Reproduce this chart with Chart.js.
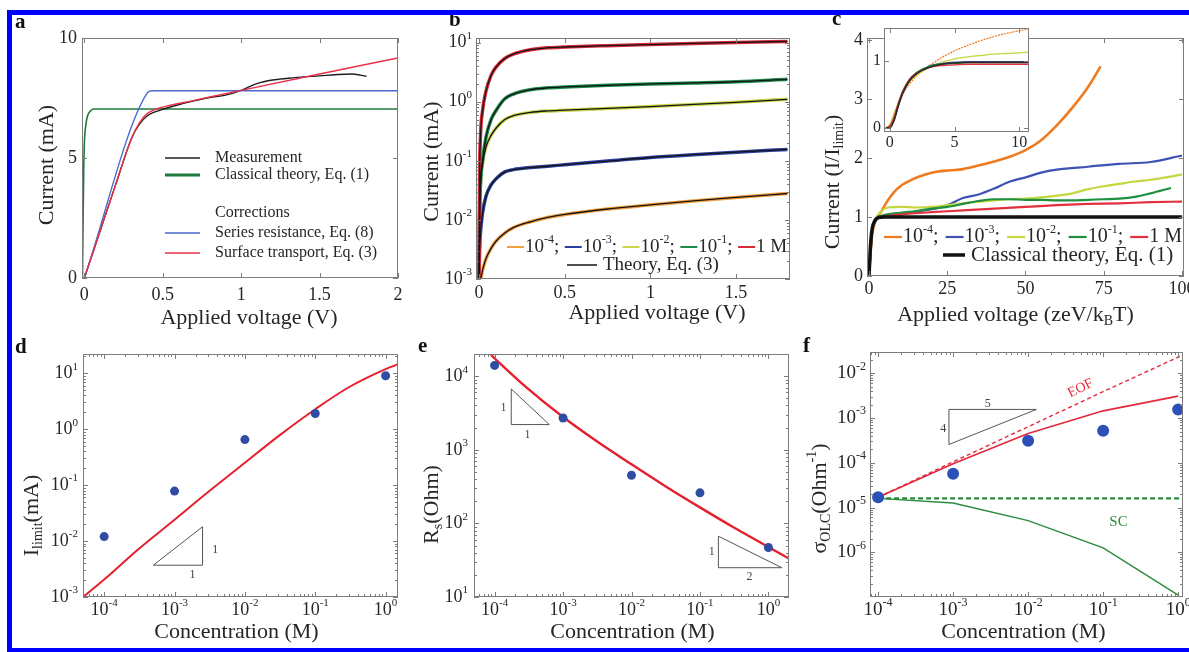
<!DOCTYPE html>
<html>
<head>
<meta charset="utf-8">
<title>Current-voltage and concentration figure</title>
<script src="https://cdn.jsdelivr.net/npm/chart.js@4.4.1/dist/chart.umd.min.js"></script>
<style>
  html, body { margin: 0; padding: 0; background: #fff; }
  #page { position: relative; width: 1189px; height: 652px; overflow: hidden; background: #fff; }
  .band { position: absolute; background: #0000ff; }
  canvas { position: absolute; }
</style>
</head>
<body>
<div id="page">
  <div class="band" style="left:7px;top:10px;width:1182px;height:5px"></div>
  <div class="band" style="left:7px;top:10px;width:5px;height:642px"></div>
  <div class="band" style="left:7px;top:648px;width:1182px;height:4px"></div>
  <canvas id="pa" width="393" height="320" style="left:12px;top:15px"></canvas>
  <canvas id="pb" width="395" height="320" style="left:405px;top:15px"></canvas>
  <canvas id="pc" width="389" height="320" style="left:800px;top:15px"></canvas>
  <canvas id="pcin" width="170" height="135" style="left:866px;top:22px"></canvas>
  <canvas id="pd" width="393" height="313" style="left:12px;top:335px"></canvas>
  <canvas id="pe" width="395" height="313" style="left:405px;top:335px"></canvas>
  <canvas id="pf" width="389" height="313" style="left:800px;top:335px"></canvas>
</div>
<script>
const SERIF = "'Liberation Serif', 'Times New Roman', serif";
const INK = '#262626';
const FRAME = '#7c7c7c';

// ---- a: current vs applied voltage, 1 M
const aMeasV = [0, 0.1, 0.2, 0.3, 0.35, 0.4, 0.45, 0.5, 0.6, 0.7, 0.8, 0.9, 1.0, 1.1, 1.2, 1.3, 1.4, 1.5, 1.6, 1.7, 1.8];
const aMeasI = [0, 1.95, 3.9, 5.8, 6.4, 6.75, 6.92, 7.03, 7.22, 7.38, 7.52, 7.62, 7.82, 8.1, 8.25, 8.32, 8.38, 8.42, 8.47, 8.5, 8.4];
const aClassV = [-0.012, -0.008, -0.004, 0, 0.01, 0.02, 0.04, 0.06, 2.0];
const aClassI = [0, 2.5, 4.5, 5.6, 6.4, 6.75, 6.97, 7.04, 7.04];
const aSeriesV = [0, 0.4, 0.43, 2.0];
const aSeriesI = [0, 7.7, 7.8, 7.8];
const aSurfV = [0, 0.1, 0.2, 0.3, 0.35, 0.4, 0.45, 0.5, 0.7, 1.0, 1.5, 2.0];
const aSurfI = [0, 1.95, 3.9, 5.8, 6.45, 6.85, 7.02, 7.12, 7.4, 7.82, 8.5, 9.17];
const aXTicks = [0, 0.5, 1, 1.5, 2];
const aXLabels = ['0', '0.5', '1', '1.5', '2'];
const aYTicks = [0, 5, 10];
const aYLabels = ['0', '5', '10'];
const aLegend = ['Measurement', 'Classical theory, Eq. (1)', 'Corrections', 'Series resistance, Eq. (8)', 'Surface transport, Eq. (3)'];

// ---- b: measured and theory (log current) for five concentrations
const concNames = ['10^{-4}', '10^{-3}', '10^{-2}', '10^{-1}', '1 M'];
const bV = [0, 0.003, 0.008, 0.02, 0.04, 0.07, 0.1, 0.15, 0.2, 0.3, 0.4, 0.5, 0.75, 1.0, 1.25, 1.5, 1.8];
const bI1M = [0.001, 0.05, 0.25, 0.7, 1.5, 2.8, 3.9, 5.4, 6.4, 7.6, 8.2, 8.45, 8.9, 9.3, 9.7, 10.1, 10.5];
const bI1e1 = [0.001, 0.012, 0.04, 0.1, 0.25, 0.5, 0.72, 1.12, 1.35, 1.6, 1.72, 1.78, 1.9, 2.0, 2.08, 2.18, 2.4];
const bI1e2 = [0.001, 0.012, 0.04, 0.09, 0.17, 0.27, 0.36, 0.5, 0.58, 0.66, 0.7, 0.72, 0.77, 0.83, 0.9, 0.98, 1.1];
const bI1e3 = [0.001, 0.003, 0.006, 0.013, 0.025, 0.039, 0.05, 0.065, 0.071, 0.077, 0.081, 0.086, 0.099, 0.114, 0.127, 0.14, 0.156];
const bV1e4 = [0.01, 0.02, 0.04, 0.07, 0.1, 0.15, 0.2, 0.3, 0.4, 0.5, 0.75, 1.0, 1.25, 1.5, 1.8];
const bI1e4 = [0.001, 0.0014, 0.0022, 0.0033, 0.0044, 0.006, 0.0074, 0.0093, 0.011, 0.0124, 0.0153, 0.018, 0.021, 0.024, 0.028];
const bXTicks = [0, 0.5, 1, 1.5];
const bXLabels = ['0', '0.5', '1', '1.5'];
const bYTicks = [1e-3, 1e-2, 1e-1, 1, 10];
const bYLabels = ['10^{-3}', '10^{-2}', '10^{-1}', '10^{0}', '10^{1}'];

// ---- c: normalised current vs dimensionless voltage
const cOrangeV = [0, 1, 2, 4, 6, 8, 10, 14, 18, 22, 26, 30, 35, 40, 45, 50, 55, 60, 65, 70, 74];
const cOrangeI = [0, 0.7, 0.92, 1.1, 1.28, 1.42, 1.52, 1.64, 1.72, 1.77, 1.79, 1.81, 1.87, 1.94, 2.02, 2.13, 2.3, 2.55, 2.85, 3.2, 3.55];
const cBlueV = [0, 1, 2, 3, 5, 10, 15, 20, 25, 30, 35, 40, 45, 50, 55, 60, 70, 80, 90, 100];
const cBlueI = [0, 0.75, 0.92, 0.98, 1.0, 1.04, 1.09, 1.13, 1.2, 1.32, 1.38, 1.48, 1.6, 1.67, 1.75, 1.8, 1.85, 1.9, 1.93, 2.04];
const cYellowV = [0, 1, 2, 4, 6, 10, 15, 20, 25, 30, 35, 40, 45, 50, 55, 60, 65, 70, 75, 80, 85, 90, 95, 100];
const cYellowI = [0, 0.75, 0.95, 1.1, 1.16, 1.17, 1.16, 1.17, 1.2, 1.23, 1.26, 1.28, 1.3, 1.31, 1.33, 1.36, 1.4, 1.47, 1.52, 1.56, 1.6, 1.63, 1.67, 1.72];
const cGreenV = [0, 1, 2, 4, 10, 15, 20, 25, 30, 35, 40, 45, 50, 55, 60, 65, 70, 75, 80, 85, 90, 96.5];
const cGreenI = [0, 0.75, 0.95, 1.02, 1.07, 1.1, 1.14, 1.17, 1.22, 1.27, 1.3, 1.3, 1.29, 1.29, 1.28, 1.28, 1.29, 1.3, 1.31, 1.34, 1.4, 1.49];
const cRedV = [0, 1, 2, 4, 10, 20, 30, 40, 50, 60, 70, 80, 90, 100];
const cRedI = [0, 0.75, 0.95, 1.0, 1.04, 1.08, 1.11, 1.14, 1.17, 1.2, 1.22, 1.23, 1.25, 1.26];
const cClassV = [0, 0.5, 1, 2, 3, 5, 100];
const cClassI = [0, 0.55, 0.8, 0.95, 0.99, 1, 1];
const cXTicks = [0, 25, 50, 75, 100];
const cXLabels = ['0', '25', '50', '75', '100'];
const cYTicks = [0, 1, 2, 3, 4];
const cYLabels = ['0', '1', '2', '3', '4'];
// inset (zoom on low voltages)
const ciV = [-0.3, 0, 0.3, 0.7, 1, 1.5, 2, 3, 4, 5, 6, 7, 8, 9, 10, 10.75];
const ciOrange = [0, 0.05, 0.2, 0.38, 0.5, 0.65, 0.76, 0.92, 1.05, 1.15, 1.23, 1.3, 1.36, 1.41, 1.45, 1.48];
const ciYellow = [0, 0.05, 0.2, 0.4, 0.52, 0.68, 0.78, 0.9, 0.98, 1.03, 1.06, 1.08, 1.1, 1.11, 1.12, 1.13];
const ciBlue = [0, 0.02, 0.1, 0.35, 0.52, 0.7, 0.8, 0.92, 0.96, 0.98, 0.99, 0.99, 0.99, 0.99, 0.99, 0.99];
const ciGreen = [0, 0.02, 0.12, 0.38, 0.55, 0.72, 0.82, 0.92, 0.95, 0.96, 0.97, 0.97, 0.97, 0.97, 0.97, 0.97];
const ciRed = [0, 0.03, 0.15, 0.4, 0.55, 0.72, 0.81, 0.9, 0.93, 0.94, 0.95, 0.95, 0.95, 0.95, 0.95, 0.95];
const ciClass = [0, 0, 0.1, 0.36, 0.52, 0.7, 0.8, 0.9, 0.95, 0.97, 0.98, 0.98, 0.98, 0.98, 0.98, 0.98];
const ciXTicks = [0, 5, 10];
const ciXLabels = ['0', '5', '10'];
const ciYTicks = [0, 1];
const ciYLabels = ['0', '1'];

// ---- d, e, f: against concentration
const conc = [1e-4, 1e-3, 1e-2, 1e-1, 1];
const concTickLabels = ['10^{-4}', '10^{-3}', '10^{-2}', '10^{-1}', '10^{0}'];
const dIlimit = [0.012, 0.078, 0.65, 1.9, 9];
const dModelC = [5e-5, 1e-4, 3e-4, 1e-3, 3e-3, 1e-2, 3e-2, 1e-1, 0.3, 1, 1.5];
const dModelI = [0.001, 0.00205, 0.007, 0.024, 0.075, 0.25, 0.75, 2.27, 5.6, 11.8, 14.4];
const dYTicks = [1e-3, 1e-2, 1e-1, 1, 10];
const dYLabels = ['10^{-3}', '10^{-2}', '10^{-1}', '10^{0}', '10^{1}'];

const eRs = [14000, 2700, 450, 260, 47];
const eModelC = [8.6e-5, 1e-4, 3e-4, 1e-3, 3e-3, 1e-2, 3e-2, 1e-1, 0.3, 1, 2];
const eModelR = [20000, 17500, 6890, 2790, 1337, 634, 328, 165, 90, 47.8, 33.3];
const eYTicks = [10, 100, 1000, 10000];
const eYLabels = ['10^{1}', '10^{2}', '10^{3}', '10^{4}'];

const fSigma = [1.7e-5, 5.7e-5, 3.1e-4, 5.2e-4, 1.56e-3];
const fTotal = [1.7e-5, 9.5e-5, 4.5e-4, 1.45e-3, 3.1e-3];
const fEofC = [1e-4, 1e-3, 1e-2, 1e-1, 1, 1.16];
const fEof = [1.7e-5, 1.05e-4, 6.4e-4, 3.9e-3, 2.3e-2, 2.6e-2];
const fSc = [1.6e-5, 1.26e-5, 5.1e-6, 1.25e-6, 1.1e-7];
const fScConstC = [1e-4, 1.16];
const fScConst = [1.6e-5, 1.6e-5];
const fYTicks = [1e-6, 1e-5, 1e-4, 1e-3, 1e-2];
const fYLabels = ['10^{-6}', '10^{-5}', '10^{-4}', '10^{-3}', '10^{-2}'];

// slope triangles, in data units
const dTri = [[5e-4, 3.7e-3], [2.5e-3, 3.7e-3], [2.5e-3, 1.8e-2]];
const eTri1 = [[1.75e-4, 6700], [1.75e-4, 2200], [6.3e-4, 2200]];
const eTri2 = [[0.186, 67], [0.186, 25], [1.57, 25]];
const fTri = [[8.8e-4, 2.57e-4], [8.8e-4, 1.56e-3], [1.29e-2, 1.56e-3]];

// ---------- helpers
function parseRich(s) {
  const out = [];
  const re = /([_^])\{([^}]*)\}|([^_^]+)/g;
  let m;
  while ((m = re.exec(s))) {
    if (m[3] !== undefined) out.push([m[3], 0]);
    else out.push([m[2], m[1] === '^' ? 1 : -1]);
  }
  return out;
}
function fontOf(size, mode) {
  return Math.round(mode ? size * 0.62 : size) + 'px ' + SERIF;
}
function drawRich(ctx, s, x, y, size, align) {
  const parts = parseRich(s);
  const widths = parts.map(([t, m]) => { ctx.font = fontOf(size, m); return ctx.measureText(t).width; });
  const total = widths.reduce((p, q) => p + q, 0);
  let cx = align === 'center' ? x - total / 2 : align === 'right' ? x - total : x;
  ctx.textAlign = 'left';
  ctx.textBaseline = 'middle';
  parts.forEach(([t, m], i) => {
    ctx.font = fontOf(size, m);
    ctx.fillText(t, cx, y + (m > 0 ? -size * 0.36 : m < 0 ? size * 0.3 : 0));
    cx += widths[i];
  });
  return total;
}
function seg(ctx, x1, y1, x2, y2) {
  ctx.beginPath(); ctx.moveTo(x1, y1); ctx.lineTo(x2, y2); ctx.stroke();
}
function triangle(ctx, chart, tri) {
  const { x, y } = chart.scales;
  ctx.strokeStyle = '#555'; ctx.lineWidth = 1;
  ctx.beginPath();
  tri.forEach(([u, v], i) => {
    const px = x.getPixelForValue(u), py = y.getPixelForValue(v);
    if (i) ctx.lineTo(px, py); else ctx.moveTo(px, py);
  });
  ctx.closePath(); ctx.stroke();
}
function note(ctx, chart, u, v, text, size, color) {
  const { x, y } = chart.scales;
  ctx.fillStyle = color || '#444';
  drawRich(ctx, text, x.getPixelForValue(u), y.getPixelForValue(v), size, 'center');
}
function seriesLegend(ctx, x0, y, colors, size, segLen, gap, lw) {
  let x = x0;
  concNames.forEach((name, i) => {
    ctx.strokeStyle = colors[i]; ctx.lineWidth = lw;
    seg(ctx, x, y, x + segLen, y);
    x += segLen + 1;
    ctx.fillStyle = INK;
    x += drawRich(ctx, name + (i < concNames.length - 1 ? ';' : ''), x, y, size, 'left') + gap;
  });
}

function deco(cfg) {
  return {
    id: 'deco',
    beforeDatasetsDraw(chart) {
      if (!cfg.whiteArea) return;
      const { ctx, chartArea: a } = chart;
      ctx.save(); ctx.fillStyle = '#fff'; ctx.fillRect(a.left, a.top, a.width, a.height); ctx.restore();
    },
    afterDatasetsDraw(chart) {
      const { ctx, chartArea: a } = chart;
      const sx = chart.scales.x, sy = chart.scales.y;
      ctx.save();
      ctx.strokeStyle = FRAME; ctx.lineWidth = 1;
      ctx.strokeRect(Math.round(a.left) + 0.5, Math.round(a.top) + 0.5, Math.round(a.width) - 1, Math.round(a.height) - 1);
      const minors = (s) => {
        const out = [];
        for (let d = Math.floor(Math.log10(s.min)); d <= Math.ceil(Math.log10(s.max)); d++) {
          for (let k = 2; k < 10; k++) { const v = k * Math.pow(10, d); if (v > s.min && v < s.max) out.push(v); }
        }
        return out;
      };
      const tickX = (v, len) => {
        const p = Math.round(sx.getPixelForValue(v)) + 0.5;
        seg(ctx, p, a.bottom, p, a.bottom - len); seg(ctx, p, a.top, p, a.top + len);
      };
      const tickY = (v, len) => {
        const p = Math.round(sy.getPixelForValue(v)) + 0.5;
        seg(ctx, a.left, p, a.left + len, p); seg(ctx, a.right, p, a.right - len, p);
      };
      cfg.xTicks.forEach(v => tickX(v, 5));
      cfg.yTicks.forEach(v => tickY(v, 5));
      if (cfg.xLog) minors(sx).forEach(v => tickX(v, 3));
      if (cfg.yLog) minors(sy).forEach(v => tickY(v, 3));

      ctx.fillStyle = INK;
      cfg.xTicks.forEach((v, i) => drawRich(ctx, cfg.xLabels[i], sx.getPixelForValue(v), a.bottom + cfg.xLabelOff, cfg.tickSize, 'center'));
      cfg.yTicks.forEach((v, i) => drawRich(ctx, cfg.yLabels[i], a.left - cfg.yLabelGap, sy.getPixelForValue(v), cfg.tickSize, 'right'));
      if (cfg.xTitle) drawRich(ctx, cfg.xTitle, (a.left + a.right) / 2 + cfg.xTitleShift, a.bottom + cfg.xTitleOff, 22, 'center');
      if (cfg.yTitle) {
        ctx.save();
        ctx.translate(a.left - cfg.yTitleOff, (a.top + a.bottom) / 2 + cfg.yTitleShift);
        ctx.rotate(-Math.PI / 2);
        drawRich(ctx, cfg.yTitle, 0, 0, 22, 'center');
        ctx.restore();
      }
      if (cfg.letter) {
        ctx.font = 'bold 21px ' + SERIF; ctx.textAlign = 'left'; ctx.textBaseline = 'alphabetic';
        ctx.fillStyle = '#111';
        ctx.fillText(cfg.letter[0], cfg.letter[1], cfg.letter[2]);
      }
      if (cfg.extra) cfg.extra(ctx, chart);
      ctx.restore();
    }
  };
}

const pts = (xs, ys) => xs.map((x, i) => ({ x: x, y: ys[i] }));
const curve = (xs, ys, color, width, more) => Object.assign({
  data: pts(xs, ys), borderColor: color, borderWidth: width, pointRadius: 0,
  fill: false, cubicInterpolationMode: 'monotone'
}, more || {});
const dots = (xs, ys, color, r) => ({
  data: pts(xs, ys), showLine: false, pointRadius: r,
  pointBackgroundColor: color, pointBorderColor: color, pointBorderWidth: 0
});

function plot(id, pad, xScale, yScale, datasets, cfg) {
  return new Chart(document.getElementById(id), {
    type: 'line',
    data: { datasets: datasets },
    options: {
      responsive: false, animation: false, events: [],
      layout: { padding: pad },
      plugins: { legend: { display: false }, tooltip: { enabled: false } },
      scales: {
        x: Object.assign({ display: false }, xScale),
        y: Object.assign({ display: false }, yScale)
      }
    },
    plugins: [deco(cfg)]
  });
}

// ---------- a
plot('pa', { left: 70, top: 23, right: 7, bottom: 57 },
  { type: 'linear', min: -0.015, max: 2 }, { type: 'linear', min: 0, max: 10 },
  [
    curve(aSurfV, aSurfI, '#e8314a', 1.4),
    curve(aSeriesV, aSeriesI, '#4b68d0', 1.4),
    curve(aMeasV, aMeasI, '#1f1f1f', 1.4),
    curve(aClassV, aClassI, '#1d7a3c', 1.6)
  ],
  {
    xTicks: aXTicks, xLabels: aXLabels, yTicks: aYTicks, yLabels: aYLabels, tickSize: 18,
    xLabelOff: 17, yLabelGap: 5, xTitle: 'Applied voltage (V)', xTitleOff: 40, xTitleShift: 9,
    yTitle: 'Current (mA)', yTitleOff: 35, yTitleShift: 7, letter: ['a', 3, 13],
    extra(ctx, chart) {
      const a = chart.chartArea;
      const rows = [['#1f1f1f', 1.5, 120], ['#1d7a3c', 3, 137], [null, 0, 175], ['#4b68d0', 1.5, 195], ['#e8314a', 1.5, 215]];
      rows.forEach(([c, w, dy], i) => {
        const y = a.top + dy;
        if (c) { ctx.strokeStyle = c; ctx.lineWidth = w; seg(ctx, a.left + 83, y, a.left + 118, y); }
        ctx.fillStyle = INK;
        drawRich(ctx, aLegend[i], a.left + 133, y, 16, 'left');
      });
    }
  });

// ---------- b
const bColors = ['#f0a040', '#2b3f9e', '#c9d64a', '#1d8a4c', '#d92a3a'];
const bTheoryColor = '#141414';
plot('pb', { left: 71, top: 23, right: 10, bottom: 56 },
  { type: 'linear', min: -0.018, max: 1.815 }, { type: 'logarithmic', min: 1e-3, max: 12 },
  [
    curve(bV, bI1M, bTheoryColor, 1.3),
    curve(bV, bI1e1, bTheoryColor, 1.3),
    curve(bV, bI1e2, bTheoryColor, 1.3),
    curve(bV, bI1e3, bTheoryColor, 1.3),
    curve(bV1e4, bI1e4, bTheoryColor, 1.3),
    curve(bV, bI1M, bColors[4], 3.5),
    curve(bV, bI1e1, bColors[3], 3.5),
    curve(bV, bI1e2, bColors[2], 3.5),
    curve(bV, bI1e3, bColors[1], 3.5),
    curve(bV1e4, bI1e4, bColors[0], 3.5)
  ],
  {
    xTicks: bXTicks, xLabels: bXLabels, yTicks: bYTicks, yLabels: bYLabels, yLog: true, tickSize: 18,
    xLabelOff: 14, yLabelGap: 4, xTitle: 'Applied voltage (V)', xTitleOff: 34, xTitleShift: 24,
    yTitle: 'Current (mA)', yTitleOff: 44, yTitleShift: 3, letter: ['b', 44, 11],
    extra(ctx, chart) {
      const a = chart.chartArea;
      seriesLegend(ctx, a.left + 31, a.top + 209, bColors, 19, 17, 5.5, 2);
      ctx.strokeStyle = bTheoryColor; ctx.lineWidth = 1.5;
      seg(ctx, a.left + 91, a.top + 227, a.left + 121, a.top + 227);
      ctx.fillStyle = INK;
      drawRich(ctx, 'Theory, Eq. (3)', a.left + 127, a.top + 227, 19, 'left');
    }
  });

// ---------- c
const cColors = ['#f07a1e', '#3d52b5', '#c5d63f', '#1f9040', '#e2303f'];
plot('pc', { left: 67, top: 23, right: 5, bottom: 59 },
  { type: 'linear', min: -0.65, max: 100.65 }, { type: 'linear', min: 0, max: 4.03 },
  [
    curve(cClassV, cClassI, '#111', 3.5),
    curve(cRedV, cRedI, cColors[4], 2.2),
    curve(cGreenV, cGreenI, cColors[3], 2.2),
    curve(cYellowV, cYellowI, cColors[2], 2.2),
    curve(cBlueV, cBlueI, cColors[1], 2.2),
    curve(cOrangeV, cOrangeI, cColors[0], 2.6)
  ],
  {
    xTicks: cXTicks, xLabels: cXLabels, yTicks: cYTicks, yLabels: cYLabels, tickSize: 18,
    xLabelOff: 13, yLabelGap: 4, xTitle: 'Applied voltage (zeV/k_{B}T)', xTitleOff: 39, xTitleShift: -10,
    yTitle: 'Current (I/I_{limit})', yTitleOff: 34, yTitleShift: 25, letter: ['c', 32, 10],
    extra(ctx, chart) {
      const a = chart.chartArea;
      seriesLegend(ctx, a.left + 17, a.top + 199, cColors, 20, 18, 7, 2.2);
      ctx.strokeStyle = '#111'; ctx.lineWidth = 3.5;
      seg(ctx, a.left + 76, a.top + 217, a.left + 98, a.top + 217);
      ctx.fillStyle = INK;
      drawRich(ctx, 'Classical theory, Eq. (1)', a.left + 104, a.top + 217, 21, 'left');
    }
  });

plot('pcin', { left: 18, top: 6, right: 7, bottom: 25 },
  { type: 'linear', min: -0.45, max: 10.75 }, { type: 'linear', min: -0.06, max: 1.49 },
  [
    curve(ciV, ciClass, '#2a2a2a', 1.6),
    curve(ciV, ciRed, cColors[4], 1.3),
    curve(ciV, ciGreen, cColors[3], 1.3),
    curve(ciV, ciBlue, cColors[1], 1.3),
    curve(ciV, ciYellow, cColors[2], 1.3),
    curve(ciV, ciOrange, cColors[0], 1.2, { borderDash: [2, 1] })
  ],
  {
    whiteArea: true, xTicks: ciXTicks, xLabels: ciXLabels, yTicks: ciYTicks, yLabels: ciYLabels, tickSize: 16,
    xLabelOff: 11, yLabelGap: 3
  });

// ---------- d
const DOT = '#2f4ea3';
const MODEL = '#e5202e';
plot('pd', { left: 71, top: 19, right: 7, bottom: 51 },
  { type: 'logarithmic', min: 5e-5, max: 1.5 }, { type: 'logarithmic', min: 1e-3, max: 22 },
  [
    dots(conc, dIlimit, DOT, 4.5),
    curve(dModelC, dModelI, MODEL, 2)
  ],
  {
    xTicks: conc, xLabels: concTickLabels, yTicks: dYTicks, yLabels: dYLabels, xLog: true, yLog: true, tickSize: 18,
    xLabelOff: 13, yLabelGap: 5, xTitle: 'Concentration (M)', xTitleOff: 35, xTitleShift: -4,
    yTitle: 'I_{limit}(mA)', yTitleOff: 51, yTitleShift: 40, letter: ['d', 3, 18],
    extra(ctx, chart) {
      triangle(ctx, chart, dTri);
      note(ctx, chart, 3.8e-3, 7e-3, '1', 12);
      note(ctx, chart, 1.8e-3, 2.5e-3, '1', 12);
    }
  });

// ---------- e
plot('pe', { left: 69, top: 19, right: 11, bottom: 51 },
  { type: 'logarithmic', min: 5e-5, max: 2 }, { type: 'logarithmic', min: 10, max: 20000 },
  [
    dots(conc, eRs, DOT, 4.5),
    curve(eModelC, eModelR, MODEL, 2.4)
  ],
  {
    xTicks: conc, xLabels: concTickLabels, yTicks: eYTicks, yLabels: eYLabels, xLog: true, yLog: true, tickSize: 18,
    xLabelOff: 13, yLabelGap: 6, xTitle: 'Concentration (M)', xTitleOff: 35, xTitleShift: 1,
    yTitle: 'R_{s}(Ohm)', yTitleOff: 42, yTitleShift: 29, letter: ['e', 13, 17],
    extra(ctx, chart) {
      triangle(ctx, chart, eTri1);
      triangle(ctx, chart, eTri2);
      note(ctx, chart, 1.35e-4, 3700, '1', 12);
      note(ctx, chart, 3.03e-4, 1600, '1', 12);
      note(ctx, chart, 0.149, 41, '1', 12);
      note(ctx, chart, 0.53, 19, '2', 12);
    }
  });

// ---------- f
const F_RED = '#e3283a';
const F_GREEN = '#2a8a3c';
plot('pf', { left: 70, top: 17, right: 2, bottom: 51 },
  { type: 'logarithmic', min: 7.8e-5, max: 1.16 }, { type: 'logarithmic', min: 1e-7, max: 3e-2 },
  [
    dots(conc, fSigma, '#2d50b8', 6),
    curve(conc, fTotal, F_RED, 1.6, { cubicInterpolationMode: 'default', tension: 0 }),
    curve(fEofC, fEof, F_RED, 1.4, { borderDash: [4, 3], cubicInterpolationMode: 'default', tension: 0 }),
    curve(conc, fSc, F_GREEN, 1.4, { cubicInterpolationMode: 'default', tension: 0 }),
    curve(fScConstC, fScConst, F_GREEN, 2.4, { borderDash: [5, 3], cubicInterpolationMode: 'default', tension: 0 })
  ],
  {
    xTicks: conc, xLabels: concTickLabels, yTicks: fYTicks, yLabels: fYLabels, xLog: true, yLog: true, tickSize: 19,
    xLabelOff: 13, yLabelGap: 4, xTitle: 'Concentration (M)', xTitleOff: 35, xTitleShift: -3,
    yTitle: 'σ_{OLC}(Ohm^{-1})', yTitleOff: 50, yTitleShift: 24, letter: ['f', 3, 17],
    extra(ctx, chart) {
      triangle(ctx, chart, fTri);
      note(ctx, chart, 2.9e-3, 2.1e-3, '5', 12);
      note(ctx, chart, 7.4e-4, 5.8e-4, '4', 12);
      const { x, y } = chart.scales;
      ctx.save();
      ctx.translate(x.getPixelForValue(0.05), y.getPixelForValue(4.6e-3));
      ctx.rotate(-26 * Math.PI / 180);
      ctx.fillStyle = F_RED;
      drawRich(ctx, 'EOF', 0, 0, 14, 'center');
      ctx.restore();
      note(ctx, chart, 0.16, 4.7e-6, 'SC', 15, F_GREEN);
    }
  });
</script>
</body>
</html>
